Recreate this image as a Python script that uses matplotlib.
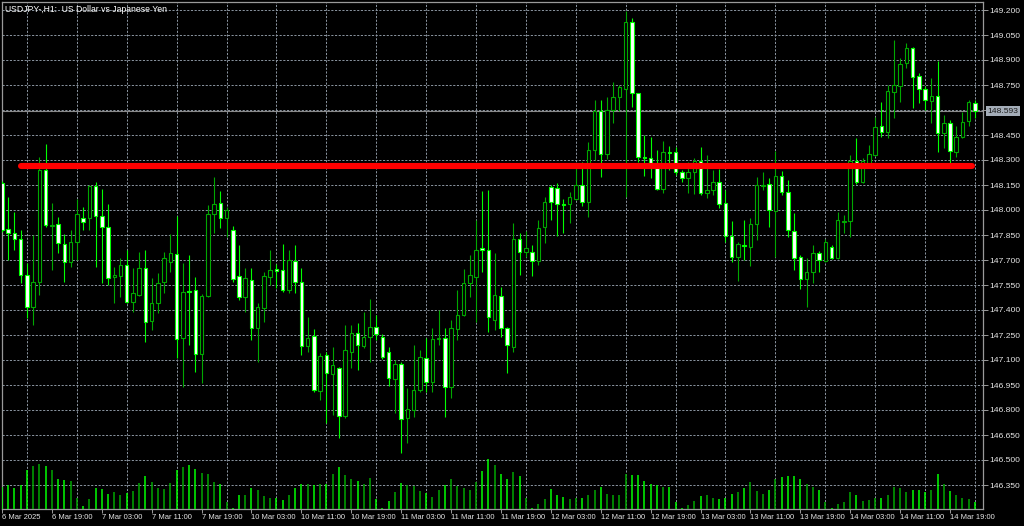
import matplotlib
matplotlib.use("Agg")
import matplotlib.pyplot as plt
import matplotlib.transforms as mtransforms

# USDJPY H1, 6 Mar 11:00 -> 14 Mar 23:00 (one entry per bar)
opens = [
    148.162, 147.886, 147.862, 147.826, 147.610, 147.418, 147.568, 148.240, 147.904, 147.916,
    147.796, 147.688, 147.808, 147.952, 147.952, 148.144, 147.964, 147.898, 147.598, 147.604,
    147.670, 147.448, 147.490, 147.652, 147.334, 147.442, 147.568, 147.688, 147.736, 147.232,
    147.514, 147.520, 147.136, 147.484, 147.976, 148.042, 147.952, 147.880, 147.604, 147.478,
    147.580, 147.292, 147.412, 147.598, 147.646, 147.640, 147.520, 147.694, 147.568, 147.184,
    147.244, 146.914, 147.130, 147.016, 147.052, 146.764, 147.148, 147.262, 147.184, 147.238,
    147.298, 147.238, 147.148, 146.986, 147.076, 146.752, 146.800, 146.920, 147.112, 146.968,
    147.226, 147.232, 146.938, 147.286, 147.370, 147.562, 147.598, 147.772, 147.760, 147.340,
    147.484, 147.292, 147.178, 147.826, 147.748, 147.748, 147.694, 147.898, 148.138, 148.132,
    148.036, 148.036, 148.066, 148.150, 148.048, 148.360, 148.594, 148.336, 148.600, 148.678,
    148.726, 149.128, 148.702, 148.318, 148.312, 148.282, 148.126, 148.348, 148.348, 148.228,
    148.192, 148.228, 148.294, 148.102, 148.120, 148.168, 148.042, 147.844, 147.718, 147.790,
    147.778, 147.916, 148.144, 148.156, 147.994, 148.204, 148.108, 147.874, 147.718, 147.586,
    147.628, 147.742, 147.694, 147.778, 147.712, 147.928, 147.934, 148.294, 148.168, 148.270,
    148.330, 148.504, 148.468, 148.708, 148.744, 148.882, 148.972, 148.804, 148.726, 148.654,
    148.684, 148.462, 148.522, 148.348, 148.438, 148.534, 148.642,
]
highs = [
    148.174, 148.078, 147.988, 147.880, 147.682, 147.850, 148.318, 148.396, 148.042, 147.958,
    147.856, 147.880, 148.066, 148.018, 148.150, 148.168, 148.126, 148.036, 147.658, 147.712,
    147.760, 147.652, 147.748, 147.760, 147.592, 147.622, 147.748, 147.856, 147.964, 147.682,
    147.730, 147.598, 147.496, 148.030, 148.198, 148.114, 148.018, 147.904, 147.790, 147.652,
    147.652, 147.442, 147.628, 147.760, 147.676, 147.796, 147.760, 147.790, 147.652, 147.358,
    147.286, 147.142, 147.148, 147.178, 147.058, 147.310, 147.310, 147.322, 147.388, 147.466,
    147.370, 147.256, 147.178, 147.100, 147.088, 146.932, 147.190, 147.160, 147.232, 147.292,
    147.400, 147.292, 147.340, 147.520, 147.646, 147.730, 147.940, 148.114, 148.120, 147.742,
    147.538, 147.298, 147.922, 147.862, 147.874, 147.790, 147.940, 148.078, 148.150, 148.162,
    148.066, 148.108, 148.252, 148.288, 148.408, 148.660, 148.660, 148.678, 148.768, 148.750,
    149.194, 149.152, 148.702, 148.450, 148.438, 148.360, 148.414, 148.384, 148.378, 148.240,
    148.288, 148.312, 148.378, 148.330, 148.240, 148.246, 148.120, 147.934, 147.808, 147.940,
    147.952, 148.198, 148.228, 148.192, 148.354, 148.234, 148.180, 147.982, 147.730, 147.712,
    147.790, 147.754, 147.826, 147.790, 147.988, 147.970, 148.330, 148.432, 148.312, 148.390,
    148.558, 148.648, 148.750, 149.020, 148.912, 149.002, 148.978, 148.822, 148.744, 148.792,
    148.894, 148.570, 148.540, 148.504, 148.588, 148.660, 148.660,
]
lows = [
    147.868, 147.700, 147.760, 147.562, 147.352, 147.310, 147.490, 147.898, 147.640, 147.742,
    147.568, 147.658, 147.700, 147.880, 147.880, 147.658, 147.562, 147.550, 147.442, 147.478,
    147.442, 147.388, 147.484, 147.208, 147.280, 147.382, 147.502, 147.628, 147.112, 146.938,
    147.190, 147.028, 146.962, 147.478, 147.862, 147.892, 147.838, 147.568, 147.460, 147.388,
    147.220, 147.088, 147.328, 147.550, 147.532, 147.508, 147.502, 147.502, 147.130, 147.148,
    146.908, 146.860, 146.722, 146.770, 146.632, 146.752, 147.052, 147.040, 147.172, 147.088,
    147.220, 147.106, 146.944, 146.782, 146.542, 146.602, 146.758, 146.908, 146.908, 146.908,
    147.190, 146.758, 146.872, 147.220, 147.364, 147.478, 147.328, 147.628, 147.268, 147.280,
    147.238, 147.022, 147.148, 147.610, 147.718, 147.604, 147.670, 147.802, 147.940, 147.844,
    147.862, 147.922, 148.060, 148.024, 147.958, 148.300, 148.198, 148.306, 148.522, 148.594,
    148.078, 148.618, 148.288, 148.204, 148.192, 148.120, 148.102, 148.240, 148.210, 148.168,
    148.102, 148.096, 148.090, 148.072, 148.090, 148.012, 147.808, 147.688, 147.574, 147.700,
    147.664, 147.820, 148.120, 147.898, 147.718, 148.090, 147.838, 147.640, 147.526, 147.418,
    147.562, 147.628, 147.688, 147.706, 147.706, 147.862, 147.838, 148.156, 148.162, 148.264,
    148.324, 148.438, 148.432, 148.552, 148.648, 148.852, 148.612, 148.642, 148.600, 148.522,
    148.348, 148.372, 148.282, 148.318, 148.432, 148.504, 148.552,
]
closes = [
    147.880, 147.862, 147.826, 147.610, 147.418, 147.568, 148.240, 147.910, 147.910, 147.802,
    147.688, 147.808, 147.976, 147.928, 148.144, 147.964, 147.898, 147.592, 147.610, 147.670,
    147.448, 147.502, 147.652, 147.328, 147.442, 147.562, 147.712, 147.742, 147.226, 147.508,
    147.510, 147.136, 147.484, 147.976, 148.036, 147.952, 148.000, 147.586, 147.478, 147.592,
    147.292, 147.418, 147.604, 147.640, 147.634, 147.520, 147.700, 147.568, 147.184, 147.232,
    146.920, 147.124, 147.022, 147.070, 146.764, 147.160, 147.262, 147.190, 147.238, 147.298,
    147.256, 147.118, 146.992, 147.076, 146.746, 146.806, 146.920, 147.118, 146.968, 147.226,
    147.232, 146.938, 147.292, 147.370, 147.562, 147.610, 147.760, 147.760, 147.358, 147.490,
    147.292, 147.190, 147.826, 147.748, 147.772, 147.694, 147.892, 148.048, 148.048, 148.036,
    148.032, 148.078, 148.150, 148.048, 148.360, 148.594, 148.336, 148.600, 148.678, 148.738,
    149.128, 148.702, 148.318, 148.314, 148.282, 148.126, 148.348, 148.344, 148.228, 148.192,
    148.228, 148.294, 148.102, 148.120, 148.168, 148.036, 147.844, 147.718, 147.796, 147.786,
    147.916, 148.150, 148.150, 148.000, 148.204, 148.108, 147.880, 147.712, 147.586, 147.628,
    147.742, 147.700, 147.808, 147.712, 147.940, 147.932, 148.294, 148.168, 148.294, 148.336,
    148.498, 148.468, 148.714, 148.750, 148.876, 148.972, 148.798, 148.726, 148.660, 148.684,
    148.462, 148.522, 148.354, 148.438, 148.528, 148.648, 148.593,
]
tick_volume = [
    2200, 2400, 2100, 2400, 3900, 4300, 4500, 4300, 3900, 3000,
    2900, 2800, 1100, 300, 1000, 2100, 2000, 1500, 1700, 1400,
    1600, 1800, 2600, 3300, 2700, 2100, 2000, 2600, 3900, 4200,
    4400, 4000, 3600, 3500, 2700, 2500, 700, 100, 1400, 1400,
    2100, 1900, 1300, 1100, 1100, 900, 1400, 2100, 2500, 2500,
    2400, 2500, 2500, 3500, 4200, 3400, 3000, 2800, 2500, 3100,
    1000, 100, 800, 1700, 2600, 2400, 2300, 1800, 1600, 1200,
    1900, 2400, 3000, 2300, 2100, 1900, 2700, 3800, 5000, 4400,
    3500, 3000, 3700, 3300, 1100, 100, 500, 1000, 2000, 1400,
    1200, 1000, 1100, 1100, 1400, 1900, 2200, 1500, 1400, 1400,
    3500, 3400, 3400, 2800, 2500, 2400, 2200, 2200, 700, 100,
    400, 800, 1300, 1400, 1100, 1000, 1100, 1500, 1700, 2100,
    2700, 1800, 1500, 1900, 3000, 3200, 3300, 3300, 3000, 2500,
    2200, 1900, 700, 100, 500, 700, 1700, 1400, 800, 900,
    1100, 1100, 1400, 2200, 2100, 1700, 1900, 1900, 1700, 1900,
    3500, 2500, 1800, 1400, 1100, 1000, 700,
]

time_labels = ["6 Mar 2025", "6 Mar 19:00", "7 Mar 03:00", "7 Mar 11:00", "7 Mar 19:00",
               "10 Mar 03:00", "10 Mar 11:00", "10 Mar 19:00", "11 Mar 03:00", "11 Mar 11:00",
               "11 Mar 19:00", "12 Mar 03:00", "12 Mar 11:00", "12 Mar 19:00", "13 Mar 03:00",
               "13 Mar 11:00", "13 Mar 19:00", "14 Mar 03:00", "14 Mar 11:00", "14 Mar 19:00"]
label_bars = [0, 8, 16, 24, 32, 40, 48, 56, 64, 72, 80, 88, 96, 104, 112, 120, 128, 136, 144, 152]
grid_bars = list(range(0, 157, 4))

price_ticks = [149.200, 149.050, 148.900, 148.750, 148.600, 148.450, 148.300, 148.150, 148.000,
               147.850, 147.700, 147.550, 147.400, 147.250, 147.100, 146.950, 146.800, 146.650,
               146.500, 146.350]
bid_price = 148.593
trend_level = 148.264
trend_bars = [3, 155.5]

title = "USDJPY-,H1:  US Dollar vs Japanese Yen"

BG = "black"
UP = "#00a800"
DOWN = "#00ff00"
GRID = "#8c96a2"
FRAME = "#9a9a9a"
TXT = "#e6e6e6"
FONT = "Liberation Sans"

fig = plt.figure(figsize=(10.24, 5.26), dpi=100, facecolor=BG)
ax = fig.add_axes([1.5 / 1024, 17 / 526, 981.5 / 1024, 507 / 526])
ax.set_facecolor(BG)

x = list(range(len(opens)))
up = [c >= o for o, c in zip(opens, closes)]

# grid
ax.set_xticks(grid_bars, minor=True)
ax.set_yticks(price_ticks)
ax.grid(which="minor", axis="x", color=GRID, linewidth=0.7, linestyle=(0, (2.2, 1.6)))
ax.grid(which="major", axis="y", color=GRID, linewidth=0.7, linestyle=(0, (2.2, 1.6)))
ax.set_axisbelow(True)

# volumes
axv = ax.twinx()
axv.set_ylim(0, 50700)
axv.axis("off")
vol_colors = [UP if u else DOWN for u in up]
axv.vlines(x, 0, tick_volume, colors=vol_colors, linewidth=1.1)

# candles
wick_colors = [UP if u else DOWN for u in up]
ax.vlines(x, lows, highs, colors=wick_colors, linewidth=0.8, zorder=3)
bottoms = [min(o, c) for o, c in zip(opens, closes)]
heights = [abs(c - o) for o, c in zip(opens, closes)]
faces = [BG if u else "white" for u in up]
ax.bar(x, heights, bottom=bottoms, width=0.56, color=faces, edgecolor=wick_colors,
       linewidth=0.8, zorder=4)

# bid line and trend line
ax.axhline(bid_price, color="#8a8a8a", linewidth=0.8, zorder=2)
ax.plot(trend_bars, [trend_level, trend_level], color="#ff0000", linewidth=4.4,
        solid_capstyle="round", zorder=5)

ax.set_xlim(-0.08, 157.29)
ax.set_ylim(146.206, 149.248)

# axes styling
for s in ax.spines.values():
    s.set_color(FRAME)
    s.set_linewidth(0.9)
ax.yaxis.tick_right()
ax.set_yticklabels(["" if abs(p - 148.6) < 1e-6 else f"{p:.3f}" for p in price_ticks])
ax.tick_params(axis="y", which="major", colors=FRAME, labelcolor=TXT, length=3.5,
               width=0.7, pad=1, labelsize=6.1)
ax.set_xticks(label_bars)
ax.set_xticklabels(time_labels)
ax.tick_params(axis="x", which="major", colors=FRAME, labelcolor=TXT, length=3,
               width=0.7, pad=0.5, labelsize=5.5)
ax.tick_params(axis="x", which="minor", length=0)
for lab in ax.get_xticklabels() + ax.get_yticklabels():
    lab.set_fontfamily(FONT)
for lab in ax.get_xticklabels():
    lab.set_horizontalalignment("left")

trans = mtransforms.blended_transform_factory(ax.transAxes, ax.transData)
ax.text(1.0045, bid_price, f"{bid_price:.3f}", transform=trans, ha="left", va="center",
        fontsize=6.1, family=FONT, color="#1a1a1a", clip_on=False, zorder=6,
        bbox=dict(boxstyle="square,pad=0.2", fc="#a4adb8", ec="none"))
ax.text(0.004, 0.994, title, transform=ax.transAxes, ha="left", va="top",
        fontsize=6.2, family=FONT, color="white", zorder=6)

fig.savefig("out.png", dpi=100, facecolor=BG)
